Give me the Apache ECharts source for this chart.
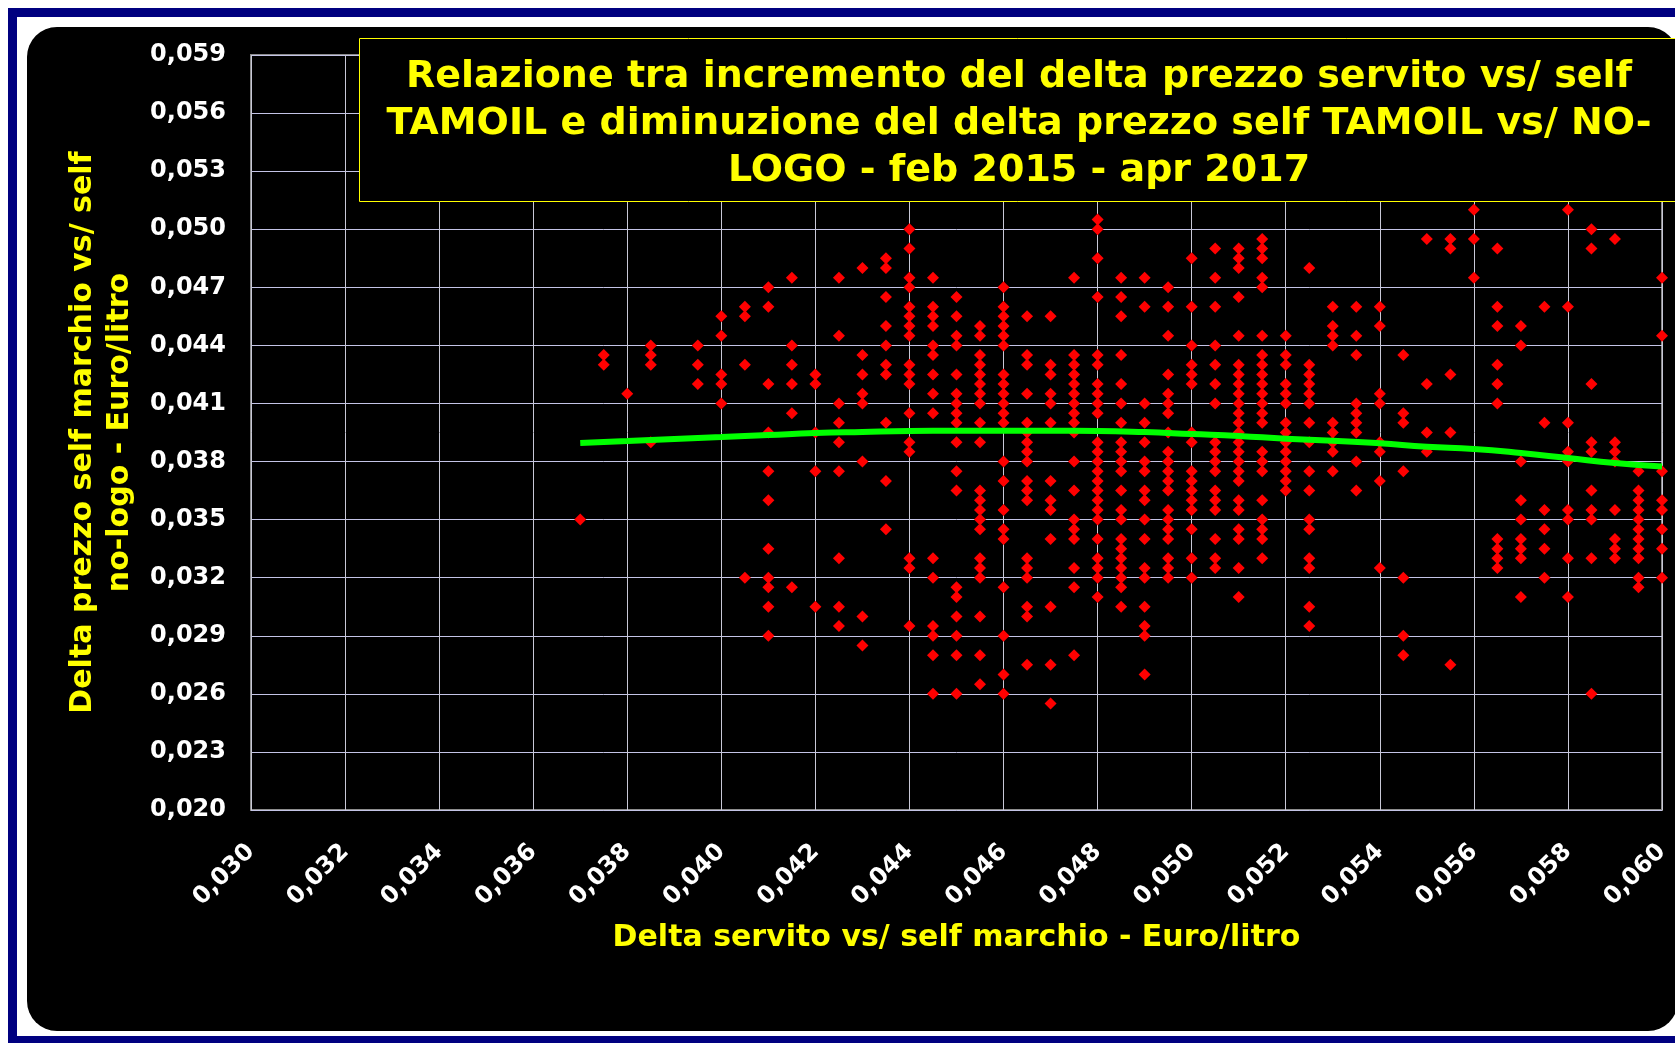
<!DOCTYPE html>
<html>
<head>
<meta charset="utf-8">
<title>Relazione delta prezzo TAMOIL</title>
<script src="https://cdn.jsdelivr.net/npm/echarts@6/dist/echarts.min.js"></script>
<style>
  html, body { margin: 0; padding: 0; background: #ffffff; }
  #main { width: 1675px; height: 1043px; }
</style>
</head>
<body>
<div id="main"></div>
<script>
// x positions of the dot columns (Euro/litro)
const xCols = [
  0.037, 0.0375, 0.038, 0.0385, 0.0395, 0.040, 0.0405, 0.041, 0.0415, 0.042,
  0.0425, 0.043, 0.0435, 0.044, 0.0445, 0.045, 0.0455, 0.046, 0.0465, 0.047,
  0.0475, 0.048, 0.0485, 0.049, 0.0495, 0.050, 0.0505, 0.051, 0.0515, 0.052,
  0.0525, 0.053, 0.0535, 0.054, 0.0545, 0.055, 0.0555, 0.056, 0.0565, 0.057,
  0.0575, 0.058, 0.0585, 0.059, 0.0595, 0.060
];
// y values found in each column (same order as xCols)
const yCols = [
  [0.035],
  [0.0435, 0.043],
  [0.0415],
  [0.044, 0.0435, 0.043, 0.039],
  [0.044, 0.043, 0.042],
  [0.0455, 0.0445, 0.0425, 0.042, 0.041],
  [0.046, 0.0455, 0.043, 0.032],
  [0.047, 0.046, 0.042, 0.0395, 0.0375, 0.036, 0.0335, 0.032, 0.0315, 0.0305, 0.029],
  [0.0475, 0.044, 0.043, 0.042, 0.0405, 0.0315],
  [0.0425, 0.042, 0.0395, 0.0375, 0.0305],
  [0.0475, 0.0445, 0.041, 0.040, 0.039, 0.0375, 0.033, 0.0305, 0.0295],
  [0.048, 0.0435, 0.0425, 0.0415, 0.041, 0.038, 0.030, 0.0285],
  [0.0485, 0.048, 0.0465, 0.045, 0.044, 0.043, 0.0425, 0.040, 0.037, 0.0345],
  [0.050, 0.049, 0.0475, 0.047, 0.046, 0.0455, 0.045, 0.0445, 0.043, 0.0425, 0.042, 0.0405, 0.039, 0.0385, 0.033, 0.0325, 0.0295],
  [0.0475, 0.046, 0.0455, 0.045, 0.044, 0.0435, 0.0425, 0.0415, 0.0405, 0.033, 0.032, 0.0295, 0.029, 0.028, 0.026],
  [0.0465, 0.0455, 0.0445, 0.044, 0.0425, 0.0415, 0.041, 0.0405, 0.040, 0.039, 0.0375, 0.0365, 0.0315, 0.031, 0.030, 0.029, 0.028, 0.026],
  [0.045, 0.0445, 0.0435, 0.043, 0.0425, 0.042, 0.0415, 0.041, 0.040, 0.039, 0.0365, 0.036, 0.0355, 0.035, 0.0345, 0.033, 0.0325, 0.032, 0.030, 0.028, 0.0265],
  [0.047, 0.046, 0.0455, 0.045, 0.0445, 0.044, 0.0425, 0.042, 0.0415, 0.041, 0.0405, 0.040, 0.038, 0.037, 0.0355, 0.0345, 0.034, 0.0315, 0.029, 0.027, 0.026],
  [0.0455, 0.0435, 0.043, 0.0415, 0.040, 0.0395, 0.039, 0.0385, 0.038, 0.037, 0.0365, 0.036, 0.033, 0.0325, 0.032, 0.0305, 0.030, 0.0275],
  [0.0455, 0.043, 0.0425, 0.0415, 0.041, 0.040, 0.037, 0.036, 0.0355, 0.034, 0.0305, 0.0275, 0.0255],
  [0.0475, 0.0435, 0.043, 0.0425, 0.042, 0.0415, 0.041, 0.0405, 0.040, 0.0395, 0.038, 0.0365, 0.035, 0.0345, 0.034, 0.0325, 0.0315, 0.028],
  [0.0505, 0.050, 0.0485, 0.0465, 0.0435, 0.043, 0.042, 0.0415, 0.041, 0.0405, 0.039, 0.0385, 0.038, 0.0375, 0.037, 0.0365, 0.036, 0.0355, 0.035, 0.034, 0.033, 0.0325, 0.032, 0.031],
  [0.0475, 0.0465, 0.0455, 0.0435, 0.042, 0.041, 0.040, 0.039, 0.0385, 0.038, 0.0375, 0.0365, 0.0355, 0.035, 0.034, 0.0335, 0.033, 0.0325, 0.032, 0.0315, 0.0305],
  [0.0475, 0.046, 0.041, 0.040, 0.039, 0.038, 0.0375, 0.0365, 0.036, 0.035, 0.034, 0.0325, 0.032, 0.0305, 0.0295, 0.029, 0.027],
  [0.047, 0.046, 0.0445, 0.0425, 0.0415, 0.041, 0.0405, 0.0395, 0.0385, 0.038, 0.0375, 0.037, 0.0365, 0.0355, 0.035, 0.0345, 0.034, 0.033, 0.0325, 0.032],
  [0.0485, 0.046, 0.044, 0.043, 0.0425, 0.042, 0.0395, 0.039, 0.0375, 0.037, 0.0365, 0.036, 0.0355, 0.0345, 0.033, 0.032],
  [0.049, 0.0475, 0.046, 0.044, 0.043, 0.042, 0.041, 0.039, 0.0385, 0.038, 0.0375, 0.0365, 0.036, 0.0355, 0.034, 0.033, 0.0325],
  [0.049, 0.0485, 0.048, 0.0465, 0.0445, 0.043, 0.0425, 0.042, 0.0415, 0.041, 0.0405, 0.040, 0.0395, 0.039, 0.0385, 0.038, 0.0375, 0.037, 0.036, 0.0355, 0.0345, 0.034, 0.0325, 0.031],
  [0.0495, 0.049, 0.0485, 0.0475, 0.047, 0.0445, 0.0435, 0.043, 0.0425, 0.042, 0.0415, 0.041, 0.0405, 0.040, 0.0385, 0.038, 0.0375, 0.036, 0.035, 0.0345, 0.034, 0.033],
  [0.0445, 0.0435, 0.043, 0.042, 0.0415, 0.041, 0.040, 0.0395, 0.039, 0.0385, 0.038, 0.0375, 0.037, 0.0365],
  [0.048, 0.043, 0.0425, 0.042, 0.0415, 0.041, 0.040, 0.039, 0.0375, 0.0365, 0.035, 0.0345, 0.033, 0.0325, 0.0305, 0.0295],
  [0.046, 0.045, 0.0445, 0.044, 0.040, 0.0395, 0.039, 0.0385, 0.0375],
  [0.046, 0.0445, 0.0435, 0.041, 0.0405, 0.040, 0.0395, 0.038, 0.0365],
  [0.046, 0.045, 0.0415, 0.041, 0.039, 0.0385, 0.037, 0.0325],
  [0.0435, 0.0405, 0.040, 0.0375, 0.032, 0.029, 0.028],
  [0.0495, 0.042, 0.0395, 0.0385],
  [0.0495, 0.049, 0.0425, 0.0395, 0.0275],
  [0.051, 0.0495, 0.0475],
  [0.049, 0.046, 0.045, 0.043, 0.042, 0.041, 0.034, 0.0335, 0.033, 0.0325],
  [0.045, 0.044, 0.038, 0.036, 0.035, 0.034, 0.0335, 0.033, 0.031],
  [0.046, 0.040, 0.0355, 0.0345, 0.0335, 0.032],
  [0.051, 0.046, 0.040, 0.0385, 0.038, 0.0355, 0.035, 0.033, 0.031],
  [0.050, 0.049, 0.042, 0.039, 0.0385, 0.0365, 0.0355, 0.035, 0.033, 0.026],
  [0.0495, 0.039, 0.0385, 0.038, 0.0355, 0.034, 0.0335, 0.033],
  [0.0375, 0.0365, 0.036, 0.0355, 0.035, 0.0345, 0.034, 0.0335, 0.033, 0.032, 0.0315],
  [0.0475, 0.0445, 0.0375, 0.036, 0.0355, 0.0345, 0.0335, 0.032]
];
// green trend line
const trendX = [0.037, 0.038, 0.039, 0.040, 0.041, 0.042, 0.043, 0.044, 0.045, 0.046, 0.047, 0.048,
  0.049, 0.050, 0.051, 0.052, 0.053, 0.054, 0.055, 0.056, 0.057, 0.058, 0.059, 0.060];
const trendY = [0.03896, 0.03906, 0.03917, 0.03927, 0.03937, 0.03947, 0.03953, 0.03958, 0.03959, 0.03959, 0.03959, 0.03958,
  0.03952, 0.03942, 0.03932, 0.03918, 0.03908, 0.03894, 0.03877, 0.03865, 0.03844, 0.03818, 0.03792, 0.03774];

// axis ranges
const xMin = 0.030, xMax = 0.060, xStep = 0.002;
const yMin = 0.020, yMax = 0.059, yStep = 0.003, yMinor = 0.001;

const titleText = 'Relazione tra incremento del delta prezzo servito vs/ self\n' +
  'TAMOIL e diminuzione del delta prezzo self TAMOIL vs/ NO-\n' +
  'LOGO - feb 2015 - apr 2017';
const xName = 'Delta servito vs/ self marchio - Euro/litro';
const yName = 'Delta prezzo self marchio vs/ self\nno-logo - Euro/litro';

const FONT = "'DejaVu Sans', Verdana, sans-serif";

function fmt(v) {
  return v.toFixed(3).replace('.', ',');
}

var points = [];
xCols.forEach(function (x, i) {
  yCols[i].forEach(function (y) {
    points.push([x, y]);
  });
});

var chart = echarts.init(document.getElementById('main'));

var option = {
  backgroundColor: '#ffffff',
  animation: false,
  title: {
    text: titleText,
    left: 1019,
    top: 54,
    padding: 0,
    textAlign: 'center',
    textVerticalAlign: 'top',
    z: 10,
    textStyle: {
      color: '#FFFF00',
      fontFamily: FONT,
      fontWeight: 'bold',
      fontSize: 38,
      lineHeight: 47
    }
  },
  graphic: [
    {
      // navy outer frame
      type: 'rect',
      z: -10,
      shape: { x: 12.5, y: 12.5, width: 1700, height: 1028 },
      style: { fill: 'none', stroke: '#000080', lineWidth: 9 }
    },
    {
      // black rounded panel
      type: 'rect',
      z: -9,
      shape: { x: 27, y: 27, width: 1651, height: 1004, r: 30 },
      style: { fill: '#000000' }
    },
    {
      // title box
      type: 'rect',
      z: 5,
      shape: { x: 359.5, y: 38.5, width: 1400, height: 163 },
      style: { fill: '#000000', stroke: '#FFFF00', lineWidth: 1 }
    }
  ],
  grid: {
    left: 251,
    right: 13,
    top: 55,
    bottom: 233,
    show: true,
    backgroundColor: '#000000',
    borderColor: '#8C8C8C',
    borderWidth: 2,
    outerBoundsMode: 'none'
  },
  xAxis: {
    type: 'value',
    min: xMin,
    max: xMax,
    interval: xStep,
    name: xName,
    nameLocation: 'middle',
    nameGap: 110,
    nameTextStyle: {
      color: '#FFFF00',
      fontFamily: FONT,
      fontWeight: 'bold',
      fontSize: 30,
      lineHeight: 36
    },
    axisLine: { show: false },
    axisTick: { show: false },
    axisLabel: {
      rotate: 45,
      margin: 38,
      color: '#FFFFFF',
      fontFamily: FONT,
      fontWeight: 'bold',
      fontSize: 24,
      formatter: fmt
    },
    splitLine: { show: true, lineStyle: { color: '#C8C8D6', width: 1 } }
  },
  yAxis: {
    type: 'value',
    min: yMin,
    max: yMax,
    interval: yMinor,
    name: yName,
    nameLocation: 'middle',
    nameRotate: 90,
    nameGap: 112,
    nameTextStyle: {
      color: '#FFFF00',
      fontFamily: FONT,
      fontWeight: 'bold',
      fontSize: 30,
      lineHeight: 37
    },
    axisLine: { show: false },
    axisTick: { show: false },
    axisLabel: {
      margin: 25,
      color: '#FFFFFF',
      fontFamily: FONT,
      fontWeight: 'bold',
      fontSize: 24,
      formatter: function (v) {
        var k = Math.round((v - yMin) / yMinor);
        return k % Math.round(yStep / yMinor) === 0 ? fmt(v) : '';
      }
    },
    splitLine: {
      show: true,
      // only every third minor step gets a visible line
      lineStyle: { color: ['#C4C4E6', 'rgba(0,0,0,0)', 'rgba(0,0,0,0)'], width: 1 }
    }
  },
  series: [
    {
      type: 'scatter',
      data: points,
      symbol: 'diamond',
      symbolSize: 12,
      itemStyle: { color: '#FF0000', opacity: 1 },
      z: 2
    },
    {
      type: 'line',
      data: trendX.map(function (x, i) { return [x, trendY[i]]; }),
      smooth: true,
      showSymbol: false,
      symbol: 'none',
      lineStyle: { color: '#00FF00', width: 6 },
      z: 3
    }
  ]
};

chart.setOption(option);
</script>
</body>
</html>
